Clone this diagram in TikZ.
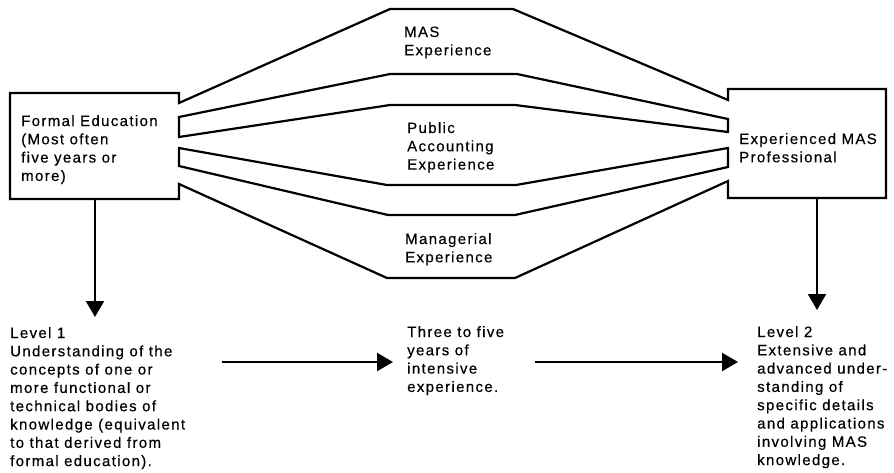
\documentclass[tikz,border=0pt]{standalone}
\usepackage{fontspec}
\setmainfont{Liberation Sans}[LetterSpace=9,FakeBold=0.4]
\usetikzlibrary{arrows.meta}

% stacked left-aligned lines whose baseline is that of the first line
\newcommand{\textlines}[1]{\begin{tabular}[t]{@{}l@{}}#1\end{tabular}}

\begin{document}
\begin{tikzpicture}[x=1pt,y=-1pt,
  outline/.style={line width=2.2pt, line join=miter},
  flow/.style={line width=2.2pt, -{Triangle[length=16pt,width=18pt]}},
  txt/.style={anchor=base west, inner sep=0pt, font=\fontsize{15}{18.3}\selectfont}]
\useasboundingbox (0,0) rectangle (894,472);

% outer outline: both boxes joined by the MAS (top) and managerial (bottom) bands
\draw[outline] (179,103) -- (179,93) -- (10,93) -- (10,199) -- (179,199) -- (179,184)
  -- (387,278) -- (515,278) -- (728,181) -- (728,198) -- (886,198) -- (886,89)
  -- (728,89) -- (728,100) -- (513,9) -- (390,9) -- cycle;
% inner band: public accounting
\draw[outline] (179,117) -- (390,74) -- (517,74) -- (728,119) -- (728,132)
  -- (515,105) -- (390,105) -- (179,137) -- cycle;
% strip between public accounting and managerial bands
\draw[outline] (179,148) -- (387,185) -- (516,185) -- (728,148) -- (728,167)
  -- (515,215) -- (388,215) -- (179,166) -- cycle;

% labels
\node[txt] (edu) at (21,126) {\textlines{Formal Education\\(Most often\\five years or\\more)}};
\node[txt] (pro) at (739,144) {\textlines{Experienced MAS\\Professional}};
\node[txt] (mas) at (404,37) {\textlines{MAS\\Experience}};
\node[txt] (pub) at (407,133) {\textlines{Public\\Accounting\\Experience}};
\node[txt] (mgr) at (405,244) {\textlines{Managerial\\Experience}};
\node[txt] (lvone) at (10,338) {\textlines{Level 1\\Understanding of the\\concepts of one or\\more functional or\\technical bodies of\\knowledge (equivalent\\to that derived from\\formal education).}};
\node[txt] (yrs) at (407,337) {\textlines{Three to five\\years of\\intensive\\experience.}};
\node[txt] (lvtwo) at (757,337) {\textlines{Level 2\\Extensive and\\advanced under-\\standing of\\specific details\\and applications\\involving MAS\\knowledge.}};

% arrow end points
\coordinate (eduOut) at (95,199);
\coordinate (lvoneIn) at (95,317);
\coordinate (proOut) at (817,198);
\coordinate (lvtwoIn) at (817,310);
\coordinate (hOneA) at (222,362);
\coordinate (hOneB) at (393,362);
\coordinate (hTwoA) at (535,362);
\coordinate (hTwoB) at (738,362);

\draw[flow] (eduOut) -- (lvoneIn);
\draw[flow] (proOut) -- (lvtwoIn);
\draw[flow] (hOneA) -- (hOneB);
\draw[flow] (hTwoA) -- (hTwoB);
\end{tikzpicture}
\end{document}
